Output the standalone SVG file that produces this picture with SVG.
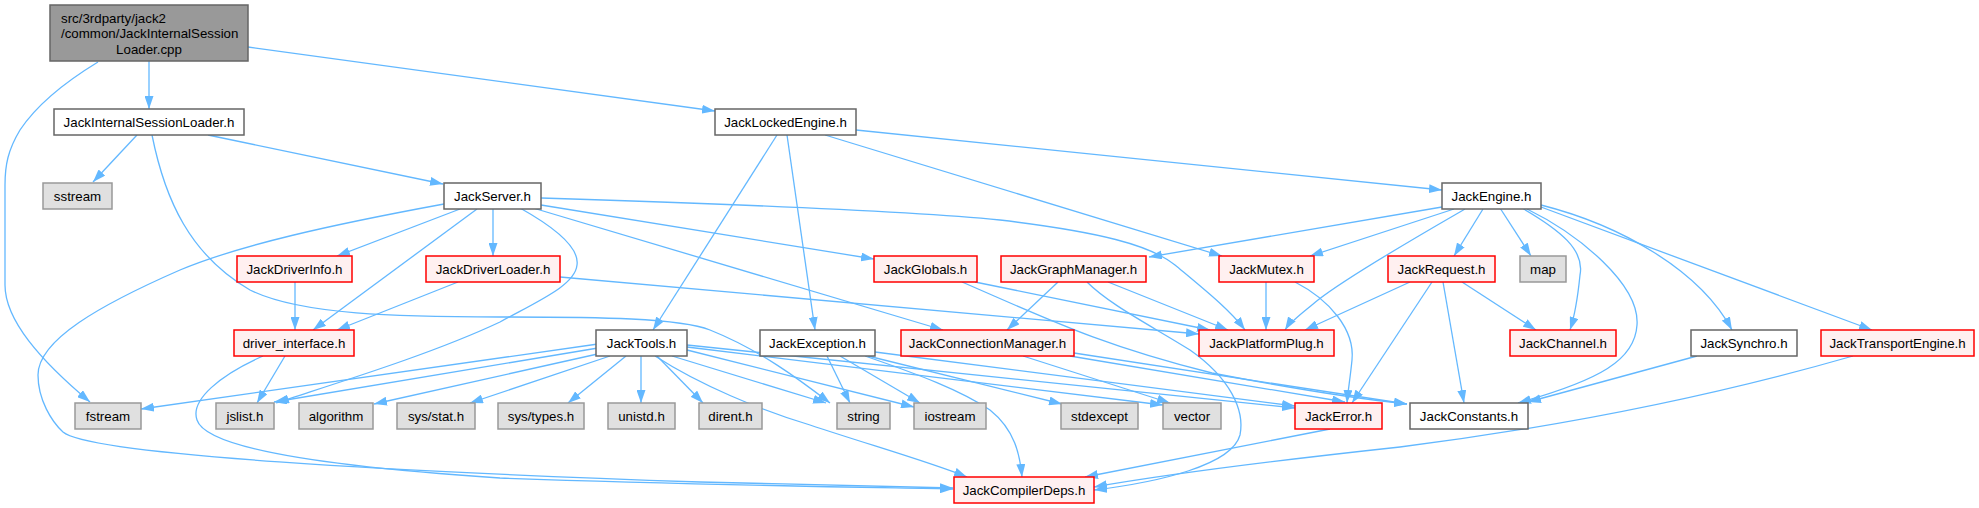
<svg xmlns="http://www.w3.org/2000/svg" width="1979" height="508" viewBox="0 0 1979 508">
<style>
text{font-family:"Liberation Sans",Arial,sans-serif;font-size:13.3px;fill:#000;text-anchor:middle}
.w rect{fill:#fff;stroke:#666666;stroke-width:1.5}
.r rect{fill:#fff0f0;stroke:#ff0000;stroke-width:1.5}
.g rect{fill:#e0e0e0;stroke:#999999;stroke-width:1.5}
.m rect{fill:#999999;stroke:#666666;stroke-width:1.5}
#edges path{fill:none;stroke:#63b8ff;stroke-width:1.3;marker-end:url(#a)}
</style>
<defs>
<marker id="a" markerWidth="13" markerHeight="9" refX="13" refY="4.5" orient="auto" markerUnits="userSpaceOnUse"><path d="M0,0 L13,4.5 L0,9 z" fill="#63b8ff" stroke="none"/></marker>
</defs>
<rect width="1979" height="508" fill="#fff"/>
<g id="edges">
<path d="M98,62 C75,76 40,100 20,130 C8,150 5,165 5,185 L5,285 C5,320 40,360 90,402"/>
<path d="M149,61 L149,109"/>
<path d="M248,47 L715,111"/>
<path d="M137,135 L93,182"/>
<path d="M208,135 L443,184"/>
<path d="M152,135 C165,200 190,255 250,290 C300,315 400,317 500,317 C600,317 680,318 710,330 C760,350 800,380 830,403"/>
<path d="M444,204 C330,225 240,245 180,270 C100,305 38,340 38,375 C38,400 52,422 63,432 C90,455 400,472 700,482 L953,488"/>
<path d="M460,209 L337,256"/>
<path d="M477,209 L313,330"/>
<path d="M493,209 L493,256"/>
<path d="M520,208 C545,222 580,245 577,265 C575,285 540,300 500,322 C430,355 330,385 276,403"/>
<path d="M533,208 L943,330"/>
<path d="M541,205 L874,259"/>
<path d="M541,198 C700,203 900,210 1000,220 C1100,232 1150,245 1175,265 C1205,290 1230,310 1245,330"/>
<path d="M295,282 L295,330"/>
<path d="M458,282 L337,330"/>
<path d="M560,277 L1199,334"/>
<path d="M285,356 L257,403"/>
<path d="M263,356 C220,375 190,400 197,420 C205,445 300,465 500,478 C700,485 850,487 953,489"/>
<path d="M777,135 L653,330"/>
<path d="M787,135 L815,330"/>
<path d="M825,135 L1222,256"/>
<path d="M856,130 L1442,190"/>
<path d="M1442,207 L1149,257"/>
<path d="M1454,209 L1310,256"/>
<path d="M1465,209 C1420,235 1350,275 1318,300 C1300,315 1290,322 1285,330"/>
<path d="M1483,209 L1454,256"/>
<path d="M1500,208 L1531,256"/>
<path d="M1522,208 C1560,230 1585,250 1580,275 C1578,295 1575,315 1570,330"/>
<path d="M1527,209 C1580,235 1640,285 1637,325 C1635,360 1600,380 1518,403"/>
<path d="M1541,205 C1620,225 1700,270 1732,330"/>
<path d="M1541,207 L1872,330"/>
<path d="M975,282 L1210,330"/>
<path d="M962,282 C1050,320 1100,345 1212,373 C1300,390 1350,398 1407,404"/>
<path d="M1058,282 L1007,330"/>
<path d="M1108,282 L1228,330"/>
<path d="M1087,282 C1110,305 1150,325 1190,350 C1230,378 1245,410 1240,435 C1232,465 1160,482 1094,490"/>
<path d="M1266,282 L1266,330"/>
<path d="M1295,282 C1330,300 1355,330 1352,360 C1350,380 1348,390 1347,403"/>
<path d="M1410,282 L1305,330"/>
<path d="M1432,282 L1352,403"/>
<path d="M1443,282 L1464,403"/>
<path d="M1462,282 L1536,330"/>
<path d="M598,344 L141,409"/>
<path d="M598,348 L274,402"/>
<path d="M602,353 L374,404"/>
<path d="M610,356 L470,403"/>
<path d="M626,356 L568,403"/>
<path d="M641,356 L641,403"/>
<path d="M657,356 L703,403"/>
<path d="M672,356 L826,403"/>
<path d="M687,350 L914,407"/>
<path d="M687,347 L1163,405"/>
<path d="M687,345 L1295,408"/>
<path d="M655,356 C700,385 760,410 810,425 C870,445 930,462 967,477"/>
<path d="M827,356 L850,403"/>
<path d="M840,356 L920,403"/>
<path d="M868,356 L1062,404"/>
<path d="M875,352 L1295,406"/>
<path d="M865,356 C920,375 960,390 990,410 C1015,430 1020,455 1022,477"/>
<path d="M1023,356 L1170,403"/>
<path d="M1070,356 L1345,402"/>
<path d="M1074,353 L1407,404"/>
<path d="M1697,356 L1528,402"/>
<path d="M1853,356 C1700,400 1550,428 1400,447 C1280,460 1180,472 1094,487"/>
<path d="M1330,429 L1085,477"/>
</g>
<g id="n_main" class="m"><rect x="50" y="5" width="198" height="56"/><text x="61" y="23" style="text-anchor:start">src/3rdparty/jack2</text><text x="61" y="38" style="text-anchor:start">/common/JackInternalSession</text><text x="149" y="54">Loader.cpp</text></g>
<g id="n_jisl" class="w"><rect x="54" y="109" width="190" height="26"/><text x="149" y="126.5">JackInternalSessionLoader.h</text></g>
<g id="n_jle" class="w"><rect x="715" y="109" width="141" height="26"/><text x="785.5" y="126.5">JackLockedEngine.h</text></g>
<g id="n_sstream" class="g"><rect x="43" y="183" width="69" height="26"/><text x="77.5" y="200.5">sstream</text></g>
<g id="n_server" class="w"><rect x="444" y="183" width="97" height="26"/><text x="492.5" y="200.5">JackServer.h</text></g>
<g id="n_engine" class="w"><rect x="1442" y="183" width="99" height="26"/><text x="1491.5" y="200.5">JackEngine.h</text></g>
<g id="n_dinfo" class="r"><rect x="237" y="256" width="115" height="26"/><text x="294.5" y="273.5">JackDriverInfo.h</text></g>
<g id="n_dloader" class="r"><rect x="426" y="256" width="134" height="26"/><text x="493" y="273.5">JackDriverLoader.h</text></g>
<g id="n_globals" class="r"><rect x="874" y="256" width="103" height="26"/><text x="925.5" y="273.5">JackGlobals.h</text></g>
<g id="n_graph" class="r"><rect x="1001" y="256" width="145" height="26"/><text x="1073.5" y="273.5">JackGraphManager.h</text></g>
<g id="n_mutex" class="r"><rect x="1219" y="256" width="95" height="26"/><text x="1266.5" y="273.5">JackMutex.h</text></g>
<g id="n_request" class="r"><rect x="1388" y="256" width="107" height="26"/><text x="1441.5" y="273.5">JackRequest.h</text></g>
<g id="n_map" class="g"><rect x="1520" y="256" width="46" height="26"/><text x="1543" y="273.5">map</text></g>
<g id="n_drvif" class="r"><rect x="234" y="330" width="120" height="26"/><text x="294" y="347.5">driver_interface.h</text></g>
<g id="n_tools" class="w"><rect x="596" y="330" width="91" height="26"/><text x="641.5" y="347.5">JackTools.h</text></g>
<g id="n_exc" class="w"><rect x="760" y="330" width="115" height="26"/><text x="817.5" y="347.5">JackException.h</text></g>
<g id="n_conn" class="r"><rect x="901" y="330" width="173" height="26"/><text x="987.5" y="347.5">JackConnectionManager.h</text></g>
<g id="n_plat" class="r"><rect x="1199" y="330" width="135" height="26"/><text x="1266.5" y="347.5">JackPlatformPlug.h</text></g>
<g id="n_chan" class="r"><rect x="1510" y="330" width="106" height="26"/><text x="1563" y="347.5">JackChannel.h</text></g>
<g id="n_sync" class="w"><rect x="1691" y="330" width="106" height="26"/><text x="1744" y="347.5">JackSynchro.h</text></g>
<g id="n_trans" class="r"><rect x="1821" y="330" width="153" height="26"/><text x="1897.5" y="347.5">JackTransportEngine.h</text></g>
<g id="n_fstream" class="g"><rect x="75" y="403" width="66" height="26"/><text x="108" y="420.5">fstream</text></g>
<g id="n_jslist" class="g"><rect x="216" y="403" width="58" height="26"/><text x="245" y="420.5">jslist.h</text></g>
<g id="n_algo" class="g"><rect x="299" y="403" width="74" height="26"/><text x="336" y="420.5">algorithm</text></g>
<g id="n_stat" class="g"><rect x="397" y="403" width="78" height="26"/><text x="436" y="420.5">sys/stat.h</text></g>
<g id="n_types" class="g"><rect x="498" y="403" width="86" height="26"/><text x="541" y="420.5">sys/types.h</text></g>
<g id="n_unistd" class="g"><rect x="608" y="403" width="67" height="26"/><text x="641.5" y="420.5">unistd.h</text></g>
<g id="n_dirent" class="g"><rect x="699" y="403" width="63" height="26"/><text x="730.5" y="420.5">dirent.h</text></g>
<g id="n_string" class="g"><rect x="837" y="403" width="53" height="26"/><text x="863.5" y="420.5">string</text></g>
<g id="n_iostream" class="g"><rect x="914" y="403" width="72" height="26"/><text x="950" y="420.5">iostream</text></g>
<g id="n_stdexcept" class="g"><rect x="1061" y="403" width="77" height="26"/><text x="1099.5" y="420.5">stdexcept</text></g>
<g id="n_vector" class="g"><rect x="1163" y="403" width="58" height="26"/><text x="1192" y="420.5">vector</text></g>
<g id="n_error" class="r"><rect x="1295" y="403" width="87" height="26"/><text x="1338.5" y="420.5">JackError.h</text></g>
<g id="n_const" class="w"><rect x="1410" y="403" width="118" height="26"/><text x="1469" y="420.5">JackConstants.h</text></g>
<g id="n_deps" class="r"><rect x="954" y="477" width="140" height="26"/><text x="1024" y="494.5">JackCompilerDeps.h</text></g>
</svg>
